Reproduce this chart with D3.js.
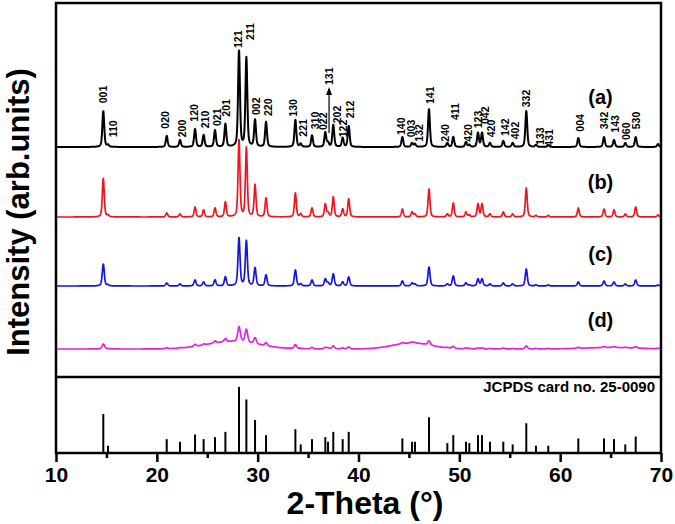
<!DOCTYPE html>
<html><head><meta charset="utf-8">
<script src="https://cdn.jsdelivr.net/npm/d3@7"></script>
<style>
html,body{margin:0;padding:0;background:#fff;}
svg text{font-family:"Liberation Sans",Arial,sans-serif;font-weight:bold;}
</style></head>
<body>
<svg id="chart" width="675" height="524"></svg>
<script>
// ---- data ----
// peak positions (2-theta, degrees) of the reference card + one small extra bump
const twoTheta = [14.69,15.16,20.98,22.30,23.79,24.64,25.77,26.80,28.15,28.88,29.74,30.83,33.74,34.27,35.39,36.71,36.98,37.50,38.43,39.03,44.35,45.31,45.60,46.99,48.81,49.40,50.66,50.99,51.85,52.25,53.04,54.36,55.29,56.64,57.60,58.82,61.80,64.35,65.34,66.46,67.49,69.70];
// JCPDS card no. 25-0090 relative intensities
const refIntensity = [59,11,21,17,28,21,24,32,100,81,50,27,36,13,21,24,17,32,21,32,22,17,17,54,15,27,17,15,27,27,17,17,13,45,11,11,22,22,21,13,25,0];
// sample peak intensities (a.u.)
const sampleA = [360,20,110,70,180,120,167,230,960,890,267,250,270,30,116,146,40,220,90,210,100,40,30,380,40,100,50,20,140,140,40,60,40,360,20,20,90,100,70,40,100,30];
const sampleB = [390,15,40,30,100,70,90,150,770,690,320,190,240,30,90,130,40,200,80,180,80,50,30,280,30,140,50,20,130,130,30,50,30,290,15,15,90,80,70,30,100,20];
const sampleC = [220,10,30,20,60,40,60,90,480,450,180,110,160,20,60,70,30,120,40,90,50,30,20,190,20,100,30,10,70,70,20,30,20,170,10,10,40,50,40,20,60,10];
const sampleD = [50,5,10,5,20,10,20,30,150,130,60,30,40,5,15,15,10,30,10,20,10,10,5,40,5,20,10,5,10,10,5,10,5,30,5,5,10,10,10,5,15,5];
// broad amorphous humps of sample (d)
const humpCenter = [27.5, 45.3, 65.0];
const humpWidth  = [6.0, 4.5, 6.0];
const humpHeight = [75, 60, 15];
// vertical offsets of the stacked patterns (a.u.)
const seriesNames = ["(a)","(b)","(c)","(d)"];
const seriesOffset = [2300, 1600, 910, 280];
const seriesFWHM = [0.22, 0.22, 0.24, 0.30];
// Miller-index annotations: label, 2-theta anchor, height (a.u. above pattern (a) baseline)
const hklLabel = ["001","110","020","200","120","210","021","201","121","211","002","220","130","221","310","022","131","202","122","212","140","003","132","141","240","411","420","123","042","420","142","402","332","133","431","004","342","143","060","530"];
const hklPos   = [14.69,15.68,20.81,22.47,23.72,24.78,25.94,26.93,28.05,29.30,29.90,31.00,33.53,34.53,35.69,36.51,37.10,37.84,38.49,39.16,44.22,45.18,46.00,47.09,48.58,49.57,50.89,51.88,52.60,53.20,54.53,55.52,56.68,58.00,58.92,61.97,64.35,65.44,66.60,67.59];
const hklLevel = [437,97,183,97,253,187,210,303,990,1070,320,310,303,103,177,170,620,237,97,287,120,97,53,430,53,270,53,187,230,97,110,77,397,20,3,153,177,143,70,177];
const xTicks = [10,20,30,40,50,60,70];

// ---- drawing ----
const svg = d3.select("#chart");
const L = 56, R = 661, T = 3, MID = 377, B = 453;
const x = d3.scaleLinear().domain([10,70]).range([L,R]);
const y = d3.scaleLinear().domain([0,3740]).range([MID,T]);
const yRef = d3.scaleLinear().domain([0,115]).range([B,MID]);
const colors = ["#000000","#f0141e","#1414dc","#e61ee6"];
const series = [sampleA, sampleB, sampleC, sampleD];

function profile(vals, fwhm, withHump){
  const pts = [];
  const eta = 0.45, k = 4*Math.LN2;
  for (let i=0;i<=3000;i++){
    const t = 10 + i*0.02;
    let s = 0;
    for (let j=0;j<twoTheta.length;j++){
      const d = (t - twoTheta[j])/fwhm;
      if (Math.abs(d) > 40) continue;
      s += vals[j]*(eta/(1+4*d*d) + (1-eta)*Math.exp(-k*d*d));
    }
    if (withHump){
      for (let j=0;j<humpCenter.length;j++){
        const d = (t-humpCenter[j])/humpWidth[j];
        s += humpHeight[j]*Math.exp(-k*d*d);
      }
    }
    pts.push([t,s]);
  }
  return pts;
}

series.forEach((vals,i)=>{
  const pts = profile(vals, seriesFWHM[i], i===3);
  svg.append("path")
    .attr("d", d3.line().x(d=>x(d[0])).y(d=>y(d[1]+seriesOffset[i]))(pts))
    .attr("fill","none").attr("stroke",colors[i])
    .attr("stroke-width", i===0?2:1.7).attr("stroke-linejoin","round");
});

// series labels
seriesNames.forEach((n,i)=>{
  const lift = [430, 280, 250, 220][i];
  svg.append("text").attr("x", x(64.0)).attr("y", y(seriesOffset[i]+lift))
    .attr("text-anchor","middle").attr("font-size",20).text(n);
});

// hkl labels
hklLabel.forEach((lab,i)=>{
  const px = x(hklPos[i]), py = y(seriesOffset[0]+hklLevel[i]);
  svg.append("text").attr("transform",`translate(${px},${py}) rotate(-90)`)
    .attr("dy","0.36em").attr("font-size",10.5).attr("text-anchor","start").text(lab);
});
// arrow for 131
{
  const ax = x(37.08);
  svg.append("line").attr("x1",ax).attr("x2",ax)
    .attr("y1",y(seriesOffset[0]+140)).attr("y2",y(seriesOffset[0]+560))
    .attr("stroke","#000").attr("stroke-width",1.2);
  const ty = y(seriesOffset[0]+600);
  svg.append("path").attr("d",`M${ax},${ty} L${ax-3},${ty+8} L${ax+3},${ty+8} Z`).attr("fill","#000");
}

// reference lines
twoTheta.forEach((t,i)=>{
  if (!refIntensity[i]) return;
  svg.append("line").attr("x1",x(t)).attr("x2",x(t))
    .attr("y1",yRef(0)).attr("y2",yRef(refIntensity[i]))
    .attr("stroke","#000").attr("stroke-width",2);
});
svg.append("text").attr("x",655).attr("y",yRef(93)).attr("text-anchor","end")
  .attr("font-size",15).text("JCPDS card no. 25-0090");

// frame
svg.append("rect").attr("x",L).attr("y",T).attr("width",R-L).attr("height",B-T)
  .attr("fill","none").attr("stroke","#000").attr("stroke-width",2.5);
svg.append("line").attr("x1",L).attr("x2",R).attr("y1",MID).attr("y2",MID)
  .attr("stroke","#000").attr("stroke-width",2.5);

// x axis
const ax = svg.append("g").attr("transform",`translate(0,${B})`)
  .call(d3.axisBottom(x).tickValues(d3.range(15,70,10)).tickSize(5).tickFormat(""));
ax.select(".domain").remove();
ax.selectAll("line").attr("stroke-width",2.5);
const ax2 = svg.append("g").attr("transform",`translate(0,${B})`)
  .call(d3.axisBottom(x).tickValues(xTicks).tickSize(9).tickPadding(5).tickFormat(d3.format("d")));
ax2.select(".domain").remove();
ax2.selectAll("line").attr("stroke-width",2.5);
ax2.selectAll("text").attr("font-size",21).attr("fill","#000")
  .style("font-family",'"Liberation Sans",Arial,sans-serif').style("font-weight","bold");

// axis titles
svg.append("text").attr("x",365).attr("y",514).attr("text-anchor","middle")
  .attr("font-size",32).text("2-Theta (°)");
svg.append("text").attr("transform","translate(21,212) rotate(-90)")
  .attr("dy","0.25em").attr("text-anchor","middle").attr("font-size",31)
  .text("Intensity (arb.units)");
</script>
</body></html>
